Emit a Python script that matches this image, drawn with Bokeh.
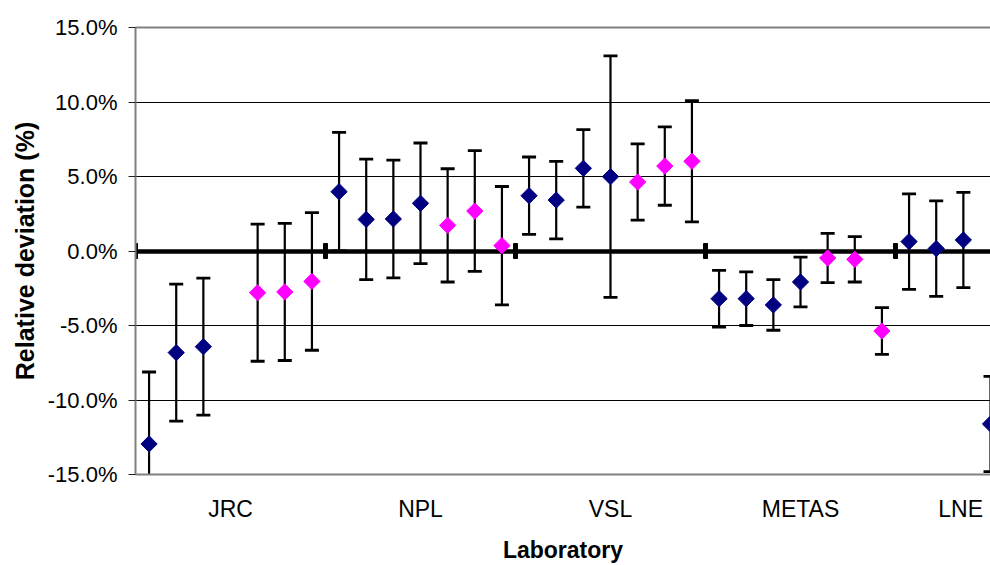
import numpy as np
from bokeh.plotting import figure
from bokeh.models import Range1d, LinearAxis, FixedTicker, PrintfTickFormatter, Grid
from bokeh.embed import file_html
from bokeh.resources import INLINE

# ---------------- data ----------------
categories = ["JRC", "NPL", "VSL", "METAS", "LNE"]
slots_per_lab = 7

# series 1 (navy): measurement slot, relative deviation (%), uncertainty (%)
navy_slot = [0, 1, 2, 7, 8, 9, 10, 14, 15, 16, 17, 21, 22, 23, 24, 28, 29, 30, 31]
navy_value = [-12.95, -6.82, -6.42, 3.98, 2.12, 2.15, 3.20, 3.71, 3.42, 5.55, 4.99,
              -3.20, -3.20, -3.62, -2.08, 0.63, 0.16, 0.74, -11.61]
navy_unc = [4.83, 4.60, 4.60, 3.98, 4.04, 3.95, 4.05, 2.60, 2.60, 2.60, 8.10,
            1.90, 1.80, 1.70, 1.67, 3.20, 3.20, 3.20, 3.20]

# series 2 (magenta)
mag_slot = [4, 5, 6, 11, 12, 13, 18, 19, 20, 25, 26, 27]
mag_value = [-2.80, -2.75, -2.04, 1.72, 2.68, 0.36, 4.63, 5.70, 6.02, -0.47, -0.56, -5.37]
mag_unc = [4.60, 4.60, 4.62, 3.80, 4.05, 3.97, 2.56, 2.63, 4.07, 1.65, 1.52, 1.57]

y_ticks = [-15, -10, -5, 0, 5, 10, 15]
X_END = 31.5  # visible part of the category axis

FONT = "Liberation Sans"
NAVY = "#000080"
MAGENTA = "#FF00FF"

p = figure(width=990, height=565, x_range=Range1d(0, X_END), y_range=Range1d(-15, 15),
           output_backend="svg", toolbar_location=None,
           x_axis_type=None, y_axis_type=None,
           min_border_left=135, min_border_right=0, min_border_top=27, min_border_bottom=90)
p.outline_line_color = None
p.background_fill_color = "white"
p.border_fill_color = "white"

# y axis
yax = LinearAxis(ticker=FixedTicker(ticks=y_ticks),
                 formatter=PrintfTickFormatter(format="%.1f%%"),
                 axis_label="Relative deviation (%)")
yax.axis_line_color = "#808080"
yax.axis_line_width = 2
yax.major_tick_out = 7
yax.major_tick_in = 0
yax.minor_tick_line_color = None
yax.major_tick_line_color = "#202020"
yax.major_label_standoff = 11
yax.major_label_text_font = FONT
yax.major_label_text_font_size = "22px"
yax.major_label_text_color = "black"
yax.axis_label_text_font = FONT
yax.axis_label_text_font_size = "25px"
yax.axis_label_text_font_style = "bold"
yax.axis_label_text_color = "black"
yax.axis_label_standoff = 6
p.add_layout(yax, "left")

# x axis (category labels at group centres, last one kept inside the visible part)
label_x = [round(min(i * slots_per_lab + slots_per_lab / 2, X_END - 1.1), 2)
           for i in range(len(categories))]
xax = LinearAxis(ticker=FixedTicker(ticks=label_x), axis_label="Laboratory")
xax.major_label_overrides = {lx: name for lx, name in zip(label_x, categories)}
xax.axis_line_color = "#808080"
xax.axis_line_width = 2
xax.major_tick_line_color = None
xax.minor_tick_line_color = None
xax.major_tick_out = 0
xax.major_tick_in = 0
xax.major_label_standoff = 21
xax.major_label_text_font = FONT
xax.major_label_text_font_size = "23px"
xax.major_label_text_color = "black"
xax.major_label_text_line_height = 1.0
xax.axis_label_text_font = FONT
xax.axis_label_text_font_size = "23px"
xax.axis_label_text_font_style = "bold"
xax.axis_label_text_color = "black"
xax.axis_label_text_line_height = 1.0
xax.axis_label_standoff = 12
p.add_layout(xax, "below")

# top border of plot area
tax = LinearAxis(ticker=FixedTicker(ticks=[]))
tax.axis_line_color = "#808080"
tax.axis_line_width = 2
tax.major_tick_line_color = None
tax.minor_tick_line_color = None
tax.major_label_text_font_size = "0px"
p.add_layout(tax, "above")

# grid lines
p.add_layout(Grid(dimension=1,
                  ticker=FixedTicker(ticks=[t for t in y_ticks if abs(t) not in (0, 15)]),
                  grid_line_color="black", grid_line_width=1))

# thick zero line (category axis crossing)
p.hspan(y=[0], line_color="black", line_width=4.5)
boundaries = [i * slots_per_lab for i in range(len(categories))]
p.rect(x=boundaries, y=[0] * len(boundaries), width=4, height=15,
       width_units="screen", height_units="screen", color="black")


def series(slots, vals, uncs, color):
    x = np.array(slots) + 0.5
    v = np.array(vals)
    u = np.array(uncs)
    p.segment(x0=x, y0=v - u, x1=x, y1=v + u, line_color="black", line_width=2.2)
    p.scatter(np.concatenate([x, x]), np.concatenate([v + u, v - u]), marker="dash",
              size=14, line_color="black", line_width=2.8)
    p.scatter(x, v, marker="square", angle=np.pi / 4, size=11.5,
              fill_color=color, line_color=color, line_width=1)


series(navy_slot, navy_value, navy_unc, NAVY)
series(mag_slot, mag_value, mag_unc, MAGENTA)

open("out.html", "w").write(file_html(p, INLINE))
